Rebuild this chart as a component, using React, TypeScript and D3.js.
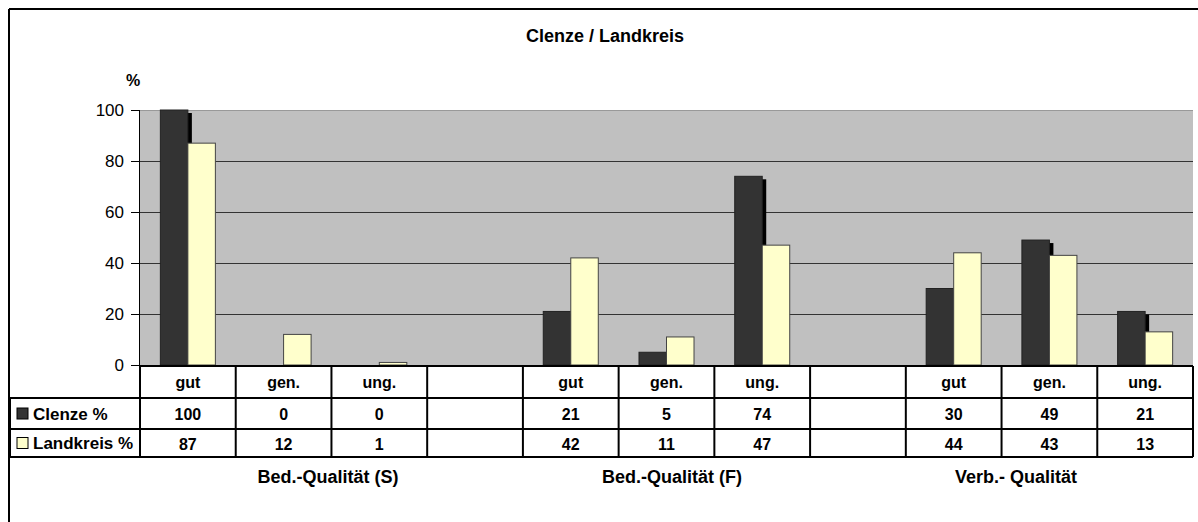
import React from "react";
import * as d3 from "d3";

const categories = ["gut", "gen.", "ung.", "", "gut", "gen.", "ung.", "", "gut", "gen.", "ung."];
const clenze: (number | null)[] = [100, 0, 0, null, 21, 5, 74, null, 30, 49, 21];
const landkreis: (number | null)[] = [87, 12, 1, null, 42, 11, 47, null, 44, 43, 13];
const seriesNames = ["Clenze %", "Landkreis %"];
const groupLabels = ["Bed.-Qualität (S)", "Bed.-Qualität (F)", "Verb.- Qualität"];
const yTicks = [0, 20, 40, 60, 80, 100];
const title = "Clenze / Landkreis";

const W = 1198;
const H = 522;
const plotLeft = 140;
const plotRight = 1193;
const plotTop = 110;
const plotBottom = 366;
const rowHeader = [366, 398];
const rowClenze = [398, 429];
const rowLand = [429, 457];
const tableLeft = 10;
const groupLabelX = [328, 672, 1016];
const FONT = "'Liberation Sans', Arial, sans-serif";

const colors = ["#333333", "#FFFFCC"];

export default function App() {
  const idx = categories.map((_, i) => String(i));
  const x = d3.scaleBand<string>().domain(idx).range([plotLeft, plotRight]).paddingInner(0).paddingOuter(0);
  const bw = x.bandwidth();
  const x1 = d3.scaleBand<string>().domain(seriesNames).range([0, bw]).paddingInner(0).paddingOuter(0.74);
  const y = d3.scaleLinear().domain([0, 100]).range([plotBottom - 1, plotTop]);
  const series = [clenze, landkreis];

  return (
    <svg
      width={W}
      height={H}
      style={{ position: "absolute", left: 0, top: 0, background: "#fff" }}
      fontFamily={FONT}
    >
      <rect x={0} y={0} width={W} height={H} fill="#fff" />
      {/* outer frame */}
      <line x1={9} y1={9} x2={W} y2={9} stroke="#000" strokeWidth={2} />
      <line x1={9} y1={9} x2={9} y2={H} stroke="#000" strokeWidth={2} />

      {/* title */}
      <text x={605} y={42} textAnchor="middle" fontWeight="bold" fontSize={18}>
        {title}
      </text>
      <text x={133} y={86} textAnchor="middle" fontWeight="bold" fontSize={16}>
        %
      </text>

      {/* plot area */}
      <rect x={plotLeft} y={plotTop} width={plotRight - plotLeft} height={plotBottom - plotTop} fill="#C0C0C0" />
      <line x1={plotLeft} x2={plotRight} y1={plotTop + 0.5} y2={plotTop + 0.5} stroke="#999" strokeWidth={1} />
      {yTicks.filter((t) => t > 0 && t < 100).map((t) => (
        <line key={t} x1={plotLeft} x2={plotRight} y1={Math.round(y(t)) + 0.5} y2={Math.round(y(t)) + 0.5} stroke="#333" strokeWidth={1} />
      ))}

      {/* bars: shadows first */}
      {clenze.map((v, i) =>
        v == null || v === 0 ? null : (
          <rect
            key={"s" + i}
            x={(x(String(i)) as number) + (x1(seriesNames[0]) as number) + 4}
            y={y(v) + 3}
            width={x1.bandwidth()}
            height={y(0) - y(v) - 3}
            fill="#000"
          />
        )
      )}
      {series.map((s, si) =>
        s.map((v, i) =>
          v == null || v === 0 ? null : (
            <rect
              key={si + "-" + i}
              x={(x(String(i)) as number) + (x1(seriesNames[si]) as number)}
              y={y(v)}
              width={x1.bandwidth()}
              height={y(0) - y(v)}
              fill={colors[si]}
              stroke={si === 0 ? "#222" : "#444"}
              strokeWidth={1}
            />
          )
        )
      )}

      {/* y axis */}
      <line x1={plotLeft - 0.5} x2={plotLeft - 0.5} y1={plotTop} y2={plotBottom} stroke="#000" strokeWidth={1} />
      {yTicks.map((t) => (
        <g key={t}>
          <line x1={plotLeft - 9} x2={plotLeft} y1={Math.round(y(t)) + 0.5} y2={Math.round(y(t)) + 0.5} stroke="#000" strokeWidth={1} />
          <text x={124} y={y(t) + 6} textAnchor="end" fontSize={17}>
            {t}
          </text>
        </g>
      ))}

      {/* data table */}
      <g stroke="#000" strokeWidth={2} fill="none">
        <line x1={plotLeft} x2={plotRight} y1={rowHeader[0]} y2={rowHeader[0]} />
        <line x1={tableLeft} x2={plotRight} y1={rowClenze[0]} y2={rowClenze[0]} />
        <line x1={tableLeft} x2={plotRight} y1={rowLand[0]} y2={rowLand[0]} />
        <line x1={tableLeft} x2={plotRight} y1={rowLand[1]} y2={rowLand[1]} />
        <line x1={tableLeft} x2={tableLeft} y1={rowClenze[0]} y2={rowLand[1]} />
        {idx.map((k) => (
          <line key={k} x1={x(k)} x2={x(k)} y1={rowHeader[0]} y2={rowLand[1]} />
        ))}
        <line x1={plotRight} x2={plotRight} y1={rowHeader[0]} y2={rowLand[1]} />
      </g>

      {categories.map((c, i) => (
        <text key={"c" + i} x={(x(String(i)) as number) + bw / 2} y={388} textAnchor="middle" fontWeight="bold" fontSize={16}>
          {c}
        </text>
      ))}
      {series.map((s, si) =>
        s.map((v, i) =>
          v == null ? null : (
            <text
              key={"v" + si + i}
              x={(x(String(i)) as number) + bw / 2}
              y={si === 0 ? 420 : 450}
              textAnchor="middle"
              fontWeight="bold"
              fontSize={16}
            >
              {v}
            </text>
          )
        )
      )}

      {/* legend keys */}
      {seriesNames.map((n, si) => {
        const ry = si === 0 ? rowClenze : rowLand;
        const cy = (ry[0] + ry[1]) / 2;
        return (
          <g key={n}>
            <rect x={17} y={cy - 5.5} width={11} height={11} fill={colors[si]} stroke="#000" strokeWidth={1} />
            <text x={33} y={cy + 6} fontWeight="bold" fontSize={17}>
              {n}
            </text>
          </g>
        );
      })}

      {/* group labels */}
      {groupLabels.map((g, gi) => (
        <text key={g} x={groupLabelX[gi]} y={483} textAnchor="middle" fontWeight="bold" fontSize={18}>
          {g}
        </text>
      ))}
    </svg>
  );
}
